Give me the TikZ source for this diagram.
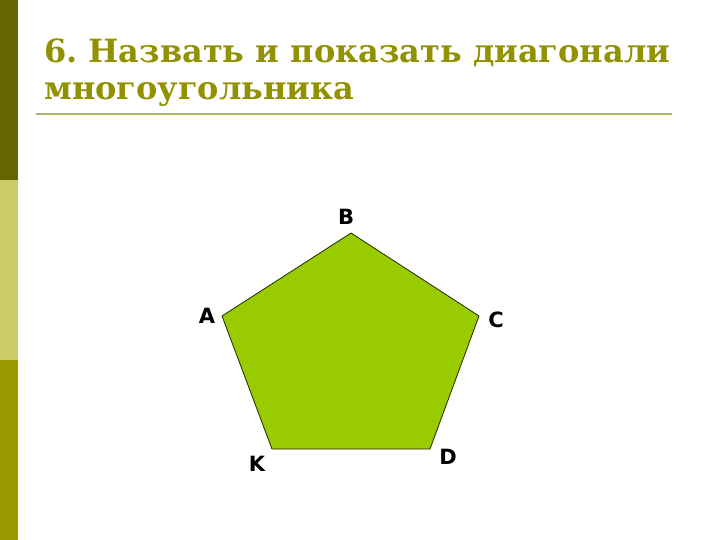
\documentclass[tikz,border=0pt]{standalone}
\usepackage{fontspec}
\newfontfamily\titlefont{DejaVu Serif}
\newfontfamily\labelfont{DejaVu Sans}
\definecolor{barDark}{HTML}{666600}
\definecolor{barLight}{HTML}{CCCC66}
\definecolor{barMid}{HTML}{999900}
\definecolor{titleCol}{HTML}{929200}
\definecolor{ruleCol}{HTML}{B0B070}
\definecolor{pentFill}{HTML}{99CC00}
\frenchspacing
\tikzset{
	vlabel/.style={font=\labelfont\bfseries\fontsize{21}{25}\selectfont, inner sep=0pt},
	titleline/.style={font=\titlefont\bfseries\fontsize{32}{38}\selectfont, text=titleCol, anchor=base west, inner sep=0pt}
}
\begin{document}
\begin{tikzpicture}[x=1pt,y=-1pt]
		\useasboundingbox (0,0) rectangle (720,540);
		\fill[white] (0,0) rectangle (720,540);
		
		\fill[barDark] (0,0) rectangle (18,180);
		\fill[barLight] (0,180) rectangle (18,360);
		\fill[barMid] (0,360) rectangle (18,540);
		
		\node[titleline] (title1) at (44,63) {6. Назвать и показать диагонали};
		\node[titleline] (title2) at (44,100) {многоугольника};
		\draw[ruleCol, line width=2pt] (36,114) -- (672,114);
		
		\coordinate (A) at (222,316);
		\coordinate (B) at (351,233);
		\coordinate (C) at (479,316);
		\coordinate (D) at (430,449);
		\coordinate (K) at (272,449);
		
		\draw[fill=pentFill, draw=black!80!pentFill, line width=0.8pt] (A) -- (B) -- (C) -- (D) -- (K) -- cycle;
		
		\node[vlabel] (labA) at (207,316) {A};
		\node[vlabel] (labB) at (346,217) {B};
		\node[vlabel] (labC) at (496,320) {C};
		\node[vlabel] (labD) at (448,457) {D};
		\node[vlabel] (labK) at (257,464) {K};
	\end{tikzpicture}
\end{document}
